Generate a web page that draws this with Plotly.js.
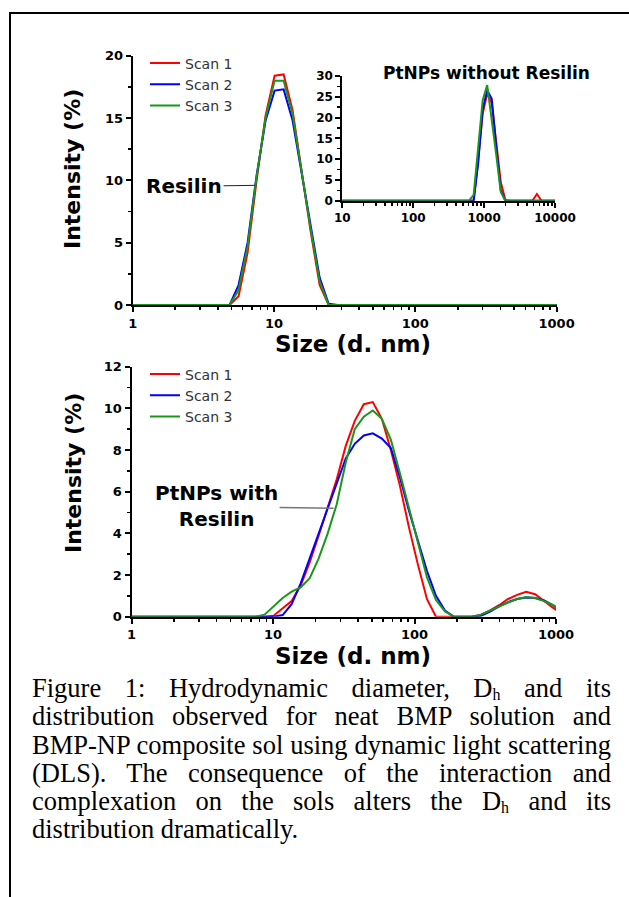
<!DOCTYPE html>
<html>
<head>
<meta charset="utf-8">
<script src="https://cdn.plot.ly/plotly-3.0.1.min.js"></script>
<style>
  html, body { margin:0; padding:0; background:#fff; }
  body { width:629px; height:897px; position:relative; overflow:hidden; }
  #frame { position:absolute; left:9px; top:12px; width:700px; height:1000px; border:2px solid #000; box-sizing:border-box; }
  #chart { position:absolute; left:0; top:0; width:629px; height:897px; }
  #caption { position:absolute; left:32px; top:674px; width:579px; font-family:"Liberation Serif","Times New Roman",serif; font-size:26.5px; line-height:28.3px; color:#000; }
  #caption .ln { text-align:justify; text-align-last:justify; white-space:normal; }
  #caption .last { text-align:left; text-align-last:left; }
  #caption sub { font-size:16px; vertical-align:baseline; position:relative; top:3px; line-height:0; }
</style>
</head>
<body>
<div id="frame"></div>
<div id="chart"></div>
<div id="caption">
  <div class="ln">Figure 1: Hydrodynamic diameter, D<sub>h</sub> and its</div>
  <div class="ln">distribution observed for neat BMP solution and</div>
  <div class="ln">BMP-NP composite sol using dynamic light scattering</div>
  <div class="ln">(DLS). The consequence of the interaction and</div>
  <div class="ln">complexation on the sols alters the D<sub>h</sub> and its</div>
  <div class="ln last">distribution dramatically.</div>
</div>
<script>
// DLS size bins (d. nm)
const sizeNm = [
  0.9649, 1.117, 1.294, 1.499, 1.736, 2.010, 2.328, 2.696, 3.122, 3.615, 4.187, 4.849, 5.615, 6.503, 7.531, 8.721,
  10.10, 11.70, 13.54, 15.69, 18.17, 21.04, 24.36, 28.21, 32.67, 37.84, 43.82, 50.75, 58.77, 68.06, 78.82, 91.28,
  105.7, 122.4, 141.8, 164.2, 190.1, 220.2, 255.0, 295.3, 342.0, 396.1, 458.7, 531.2, 615.1, 712.4, 825.0, 955.4,
  1106, 1281, 1484, 1718, 1990, 2305, 2669, 3091, 3580, 4145, 4801, 5560, 6439, 7456, 8635, 10000
];
const seriesNames = ["Scan 1", "Scan 2", "Scan 3"];

// Resilin (top chart), intensity %
const resilinScan1 = [
  0,0,0,0,0,0,0,0,0,0,0,0, 0.7,4.2,10.0,15.2,
  18.4,18.5,15.6,10.7,5.9,1.6,0,0,0,0,0,0,0,0,0,0,
  0,0,0,0,0,0,0,0,0,0,0,0,0,0,0,0,
  0,0,0,0,0,0,0,0,0,0,0,0,0,0,0,0
];
const resilinScan2 = [
  0,0,0,0,0,0,0,0,0,0,0,0, 1.6,5.0,10.4,14.8,
  17.2,17.3,14.8,10.6,6.4,2.2,0.1,0,0,0,0,0,0,0,0,0,
  0,0,0,0,0,0,0,0,0,0,0,0,0,0,0,0,
  0,0,0,0,0,0,0,0,0,0,0,0,0,0,0,0
];
const resilinScan3 = [
  0,0,0,0,0,0,0,0,0,0,0,0, 1.2,4.7,10.3,15.0,
  18.0,18.0,15.3,10.6,6.1,1.9,0,0,0,0,0,0,0,0,0,0,
  0,0,0,0,0,0,0,0,0,0,0,0,0,0,0,0,
  0,0,0,0,0,0,0,0,0,0,0,0,0,0,0,0
];

// PtNPs without Resilin (inset)
const ptScan1 = [
  0,0,0,0,0,0,0,0,0,0,0,0,0,0,0,0,
  0,0,0,0,0,0,0,0,0,0,0,0,0,0,0,0,
  0,0,0,0,0,0,0,0,0,0,0,0,0,0, 10,21,
  25.8,23.5,14,4.5,0.2,0,0,0,0,0,0,1.6,0,0,0,0
];
const ptScan2 = [
  0,0,0,0,0,0,0,0,0,0,0,0,0,0,0,0,
  0,0,0,0,0,0,0,0,0,0,0,0,0,0,0,0,
  0,0,0,0,0,0,0,0,0,0,0,0,0,0, 9,22,
  26.6,24.5,13,2.5,0,0,0,0,0,0,0,0,0,0,0,0
];
const ptScan3 = [
  0,0,0,0,0,0,0,0,0,0,0,0,0,0,0,0,
  0,0,0,0,0,0,0,0,0,0,0,0,0,0,0,0,
  0,0,0,0,0,0,0,0,0,0,0,0,0, 1.4,12.6,24.2,
  27.8,20,11,2.1,0,0,0,0,0,0,0,0,0,0,0,0
];

// PtNPs with Resilin (bottom chart)
const ptResScan1 = [
  0,0,0,0,0,0,0,0,0,0,0,0,0,0,0,0,
  0.05,0.4,0.75,1.5,2.6,3.9,5.2,6.6,8.2,9.4,10.2,10.3,9.5,8.0,6.3,4.3,
  2.5,0.85,0,0,0,0,0,0.1,0.3,0.55,0.85,1.05,1.2,1.08,0.75,0.42,
  0.15,null,null,null,null,null,null,null,null,null,null,null,null,null,null,null
];
const ptResScan2 = [
  0,0,0,0,0,0,0,0,0,0,0,0,0,0,0,0,
  0,0.08,0.6,1.6,2.8,4.0,5.2,6.4,7.6,8.3,8.7,8.8,8.55,8.1,6.7,5.1,
  3.7,2.2,1.0,0.3,0,0,0,0.05,0.25,0.5,0.7,0.85,0.92,0.9,0.78,0.55,
  0.25,null,null,null,null,null,null,null,null,null,null,null,null,null,null,null
];
const ptResScan3 = [
  0,0,0,0,0,0,0,0,0,0,0,0,0,0,0,0.1,
  0.5,0.9,1.2,1.4,1.85,2.8,4.0,5.4,7.4,9.0,9.6,9.9,9.5,8.5,6.9,5.2,
  3.5,1.9,0.8,0.25,0,0,0,0.1,0.3,0.5,0.68,0.85,0.95,0.9,0.75,0.55,
  0.3,null,null,null,null,null,null,null,null,null,null,null,null,null,null,null
];

const colors = ["#ff0000", "#0000ff", "#1a961a"];

const W = 629, H = 897;
const fx = p => p / W;
const fy = p => 1 - p / H;

const traces = [];
[resilinScan1, resilinScan2, resilinScan3].forEach((v, i) => traces.push({
  x: sizeNm, y: v, type: "scatter", mode: "lines", name: seriesNames[i],
  line: {color: colors[i], width: 2}, xaxis: "x", yaxis: "y", legend: "legend"
}));
[ptScan1, ptScan2, ptScan3].forEach((v, i) => traces.push({
  x: sizeNm, y: v, type: "scatter", mode: "lines", name: seriesNames[i], showlegend: false,
  line: {color: colors[i], width: 2}, xaxis: "x2", yaxis: "y2"
}));
[ptResScan1, ptResScan2, ptResScan3].forEach((v, i) => traces.push({
  x: sizeNm, y: v, type: "scatter", mode: "lines", name: seriesNames[i],
  line: {color: colors[i], width: 2}, xaxis: "x3", yaxis: "y3", legend: "legend2"
}));

const tickFont = {family: "DejaVu Sans", size: 13, color: "#000", weight: "bold"};
const tickFontSmall = {family: "DejaVu Sans", size: 12, color: "#000", weight: "bold"};
function logAxis(domain, range, anchor, font) {
  return {
    type: "log", domain: domain, range: range, anchor: anchor,
    dtick: 1, tickformat: ".0f", showgrid: false, zeroline: false,
    showline: true, linewidth: 2, linecolor: "#000",
    ticks: "outside", ticklen: 5, tickwidth: 2, tickcolor: "#000",
    tickfont: font, layer: "below traces",
    minor: {ticks: "outside", ticklen: 3, tickwidth: 1.5, tickcolor: "#000", dtick: "D1", showgrid: false}
  };
}
function linAxis(domain, range, dtick, anchor, font) {
  return {
    domain: domain, range: range, anchor: anchor, dtick: dtick, tick0: 0,
    showgrid: false, zeroline: false,
    showline: true, linewidth: 2, linecolor: "#000",
    ticks: "outside", ticklen: 5, tickwidth: 2, tickcolor: "#000",
    tickfont: font, layer: "below traces",
    minor: {ticks: "outside", ticklen: 3, tickwidth: 1.5, tickcolor: "#000", dtick: dtick / 2, showgrid: false}
  };
}

const titleFontX = {family: "DejaVu Sans", size: 23, color: "#000", weight: "bold"};
const titleFontY = {family: "DejaVu Sans", size: 22, color: "#000", weight: "bold"};
const labelFont = {family: "DejaVu Sans", size: 20, color: "#000", weight: "bold"};
const legendFont = {family: "DejaVu Sans", size: 14, color: "#333"};

const layout = {
  width: W, height: H,
  margin: {l: 0, r: 0, t: 0, b: 0},
  paper_bgcolor: "rgba(0,0,0,0)", plot_bgcolor: "rgba(0,0,0,0)",
  showlegend: true,
  xaxis: logAxis([fx(132.7), fx(556.6)], [0, 3], "y", tickFont),
  yaxis: linAxis([fy(305), fy(55.7)], [0, 20], 5, "x", tickFont),
  xaxis2: logAxis([fx(342.3), fx(555)], [1, 4], "y2", tickFontSmall),
  yaxis2: linAxis([fy(200.7), fy(76)], [0, 30], 5, "x2", tickFontSmall),
  xaxis3: logAxis([fx(131.5), fx(556)], [0, 3], "y3", tickFont),
  yaxis3: linAxis([fy(616.7), fy(366.7)], [0, 12], 2, "x3", tickFont),
  legend: {x: fx(145), xanchor: "left", y: fy(47.5), yanchor: "top", bgcolor: "rgba(0,0,0,0)",
           borderwidth: 0, tracegroupgap: 0, font: legendFont},
  legend2: {x: fx(145), xanchor: "left", y: fy(358.5), yanchor: "top", bgcolor: "rgba(0,0,0,0)",
           borderwidth: 0, tracegroupgap: 0, font: legendFont},
  annotations: [
    {text: "Size (d. nm)", xref: "paper", yref: "paper", x: fx(353), y: fy(344), showarrow: false,
     xanchor: "center", yanchor: "middle", font: titleFontX},
    {text: "Intensity (%)", xref: "paper", yref: "paper", x: fx(73), y: fy(169), showarrow: false,
     xanchor: "center", yanchor: "middle", textangle: -90, font: titleFontY},
    {text: "Size (d. nm)", xref: "paper", yref: "paper", x: fx(353), y: fy(656), showarrow: false,
     xanchor: "center", yanchor: "middle", font: titleFontX},
    {text: "Intensity (%)", xref: "paper", yref: "paper", x: fx(73), y: fy(473), showarrow: false,
     xanchor: "center", yanchor: "middle", textangle: -90, font: titleFontY},
    {text: "PtNPs without Resilin", xref: "paper", yref: "paper", x: fx(486), y: fy(73), showarrow: false,
     xanchor: "center", yanchor: "middle", font: {family: "DejaVu Sans", size: 17, color: "#000", weight: "bold"}},
    {text: "Resilin", xref: "x", yref: "y", x: Math.log10(7.34), y: 9.6, ax: -71, ay: 1,
     showarrow: true, arrowhead: 0, arrowwidth: 1, arrowcolor: "#222", standoff: 0,
     font: labelFont},
    {text: "PtNPs with<br>Resilin", xref: "x3", yref: "y3", x: Math.log10(26.8), y: 5.2, ax: -117, ay: -2,
     showarrow: true, arrowhead: 0, arrowwidth: 1.5, arrowcolor: "#777", standoff: 0,
     font: labelFont}
  ]
};

Plotly.newPlot("chart", traces, layout, {displayModeBar: false, staticPlot: true});
</script>
</body>
</html>
